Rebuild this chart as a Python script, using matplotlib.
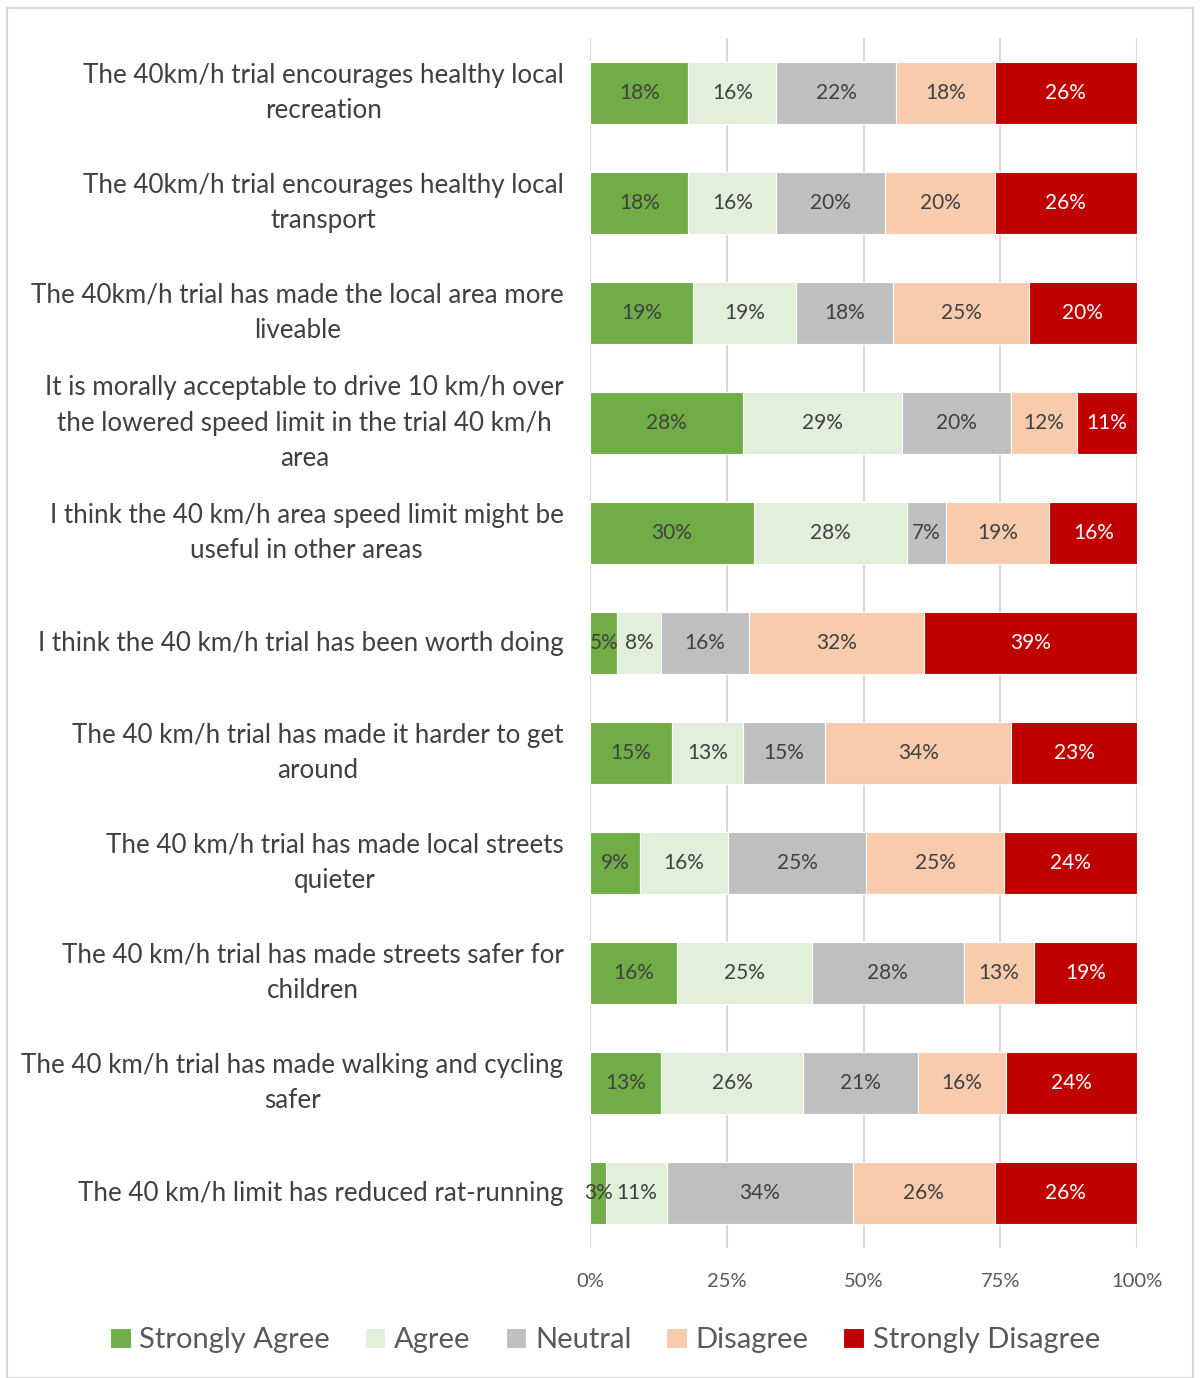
import numpy as np
import matplotlib.pyplot as plt
from matplotlib.patches import Rectangle

# 設問ラベル（元図の改行位置に合わせる）
categories = [
    "The 40km/h trial encourages healthy local\nrecreation",
    "The 40km/h trial encourages healthy local\ntransport",
    "The 40km/h trial has made the local area more\nliveable",
    "It is morally acceptable to drive 10 km/h over\nthe lowered speed limit in the trial 40 km/h\narea",
    "I think the 40 km/h area speed limit might be\nuseful in other areas",
    "I think the 40 km/h trial has been worth doing",
    "The 40 km/h trial has made it harder to get\naround",
    "The 40 km/h trial has made local streets\nquieter",
    "The 40 km/h trial has made streets safer for\nchildren",
    "The 40 km/h trial has made walking and cycling\nsafer",
    "The 40 km/h limit has reduced rat-running",
]

series_names = ["Strongly Agree", "Agree", "Neutral", "Disagree", "Strongly Disagree"]

strongly_agree = [18, 18, 19, 28, 30, 5, 15, 9, 16, 13, 3]
agree = [16, 16, 19, 29, 28, 8, 13, 16, 25, 26, 11]
neutral = [22, 20, 18, 20, 7, 16, 15, 25, 28, 21, 34]
disagree = [18, 20, 25, 12, 19, 32, 34, 25, 13, 16, 26]
strongly_disagree = [26, 26, 20, 11, 16, 39, 23, 24, 19, 24, 26]

colors = ["#70AD47", "#E2EFDA", "#BFBFBF", "#F8CBAD", "#C00000"]
text_colors = ["#404040", "#404040", "#404040", "#404040", "#FFFFFF"]

xticks = [0, 25, 50, 75, 100]
xtick_labels = ["0%", "25%", "50%", "75%", "100%"]

FONT = ["Lato", "DejaVu Sans"]
plt.rcParams['font.family'] = FONT

W, H = 1200, 1378
fig = plt.figure(figsize=(W / 100, H / 100), dpi=100)

# 外枠
fig.patches.append(Rectangle((7 / W, 0), (1193 - 7) / W, 1 - 8 / H,
                             transform=fig.transFigure, fill=False,
                             edgecolor="#D9D9D9", linewidth=1.5))

ax = fig.add_axes([590 / W, 1 - 1248 / H, (1137 - 590) / W, (1248 - 38) / H])

data = np.array([strongly_agree, agree, neutral, disagree, strongly_disagree], dtype=float)
# 100%積み上げ（行ごとに正規化）
shares = data / data.sum(axis=0) * 100
y = np.arange(len(categories))

left = np.zeros(len(categories))
for i, name in enumerate(series_names):
    ax.barh(y, shares[i], left=left, height=0.57, color=colors[i],
            edgecolor="white", linewidth=0.8, label=name, zorder=3)
    for j in range(len(categories)):
        ax.text(left[j] + shares[i][j] / 2, y[j], f"{int(data[i][j])}%",
                ha="center", va="center", fontsize=15, color=text_colors[i], zorder=4)
    left += shares[i]

ax.set_xlim(0, 100)
ax.set_ylim(len(categories) - 0.5, -0.5)
ax.set_xticks(xticks)
ax.set_xticklabels(xtick_labels, fontsize=14.5, color="#595959")
ax.set_yticks(y)
ax.set_yticklabels(categories, fontsize=18.7, color="#404040",
                   multialignment="center", linespacing=1.5)
for lab in ax.get_yticklabels():
    lab.set_va("center")
ax.tick_params(axis="both", length=0)
ax.tick_params(axis="x", pad=18)
ax.tick_params(axis="y", pad=19)
ax.grid(axis="x", color="#D9D9D9", linewidth=1.5, zorder=0)
for s in ax.spines.values():
    s.set_visible(False)

fig.legend(loc="center", bbox_to_anchor=(605 / W, 1 - 1340 / H), ncol=5,
           frameon=False, fontsize=21, handlelength=0.7, handleheight=0.7,
           handletextpad=0.3, columnspacing=1.2, labelcolor="#595959")

fig.savefig("out.png", dpi=100)
